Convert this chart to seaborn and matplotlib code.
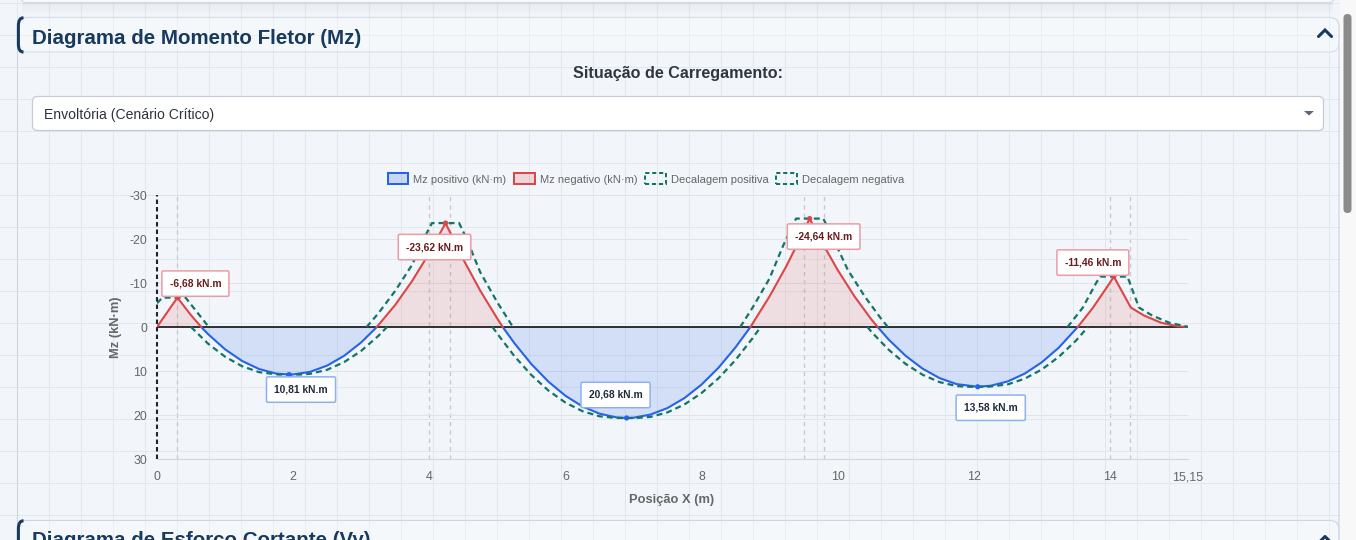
import numpy as np
import pandas as pd
import matplotlib
matplotlib.use('Agg')
import matplotlib.pyplot as plt
import seaborn as sns
from matplotlib.patches import FancyBboxPatch, Rectangle, Patch, PathPatch, Polygon
from matplotlib.path import Path

# ---- values (x in m, Mz in kN.m) ----
mz_x = [0.0, 0.15, 0.3, 0.5, 0.65, 0.75, 1.0, 1.25, 1.5, 1.75,
        1.94, 2.0, 2.25, 2.5, 2.75, 3.0, 3.23, 3.5, 3.75, 4.0,
        4.24, 4.5, 4.75, 5.0, 5.08, 5.25, 5.5, 5.75, 6.0, 6.25,
        6.5, 6.75, 6.9, 7.0, 7.25, 7.5, 7.75, 8.0, 8.25, 8.5,
        8.72, 8.75, 9.0, 9.25, 9.5, 9.59, 9.75, 10.0, 10.25, 10.5,
        10.59, 10.75, 11.0, 11.25, 11.5, 11.75, 12.06, 12.25, 12.5, 12.75,
        13.0, 13.25, 13.53, 13.75, 14.0, 14.06, 14.31, 14.5, 14.75, 15.0,
        15.15]
mz_val = [0.0, -3.34, -6.68, -2.67, 0.0, 1.61, 5.07, 7.72, 9.55, 10.58,
          10.81, 10.79, 10.19, 8.77, 6.55, 3.51, 0.0, -5.01, -10.48, -16.77,
          -23.62, -15.38, -8.26, -1.92, 0.0, 3.64, 8.41, 12.40, 15.61, 18.04,
          19.68, 20.54, 20.68, 20.62, 19.91, 18.43, 16.16, 13.11, 9.27, 4.65,
          0.0, -0.74, -6.93, -13.89, -21.64, -24.64, -19.85, -13.01, -6.94, -1.67,
          0.0, 2.83, 6.54, 9.47, 11.62, 12.98, 13.58, 13.35, 12.37, 10.60,
          8.04, 4.71, 0.0, -4.31, -10.00, -11.46, -4.42, -2.64, -1.00, -0.14,
          0.0]

nan = np.nan
dec_pos_x = [0.5, 0.75, 1.0, 1.25, 1.5, 1.79, 2.09, 2.25, 2.5, 2.75, 3.0, 3.25, 3.38, nan,
             4.93, 5.0, 5.25, 5.5, 5.75, 6.0, 6.25, 6.5, 6.75, 7.05, 7.25, 7.5, 7.75, 8.0,
             8.25, 8.5, 8.75, 8.87, nan,
             10.44, 10.5, 10.75, 11.0, 11.25, 11.5, 11.75, 11.91, 12.21, 12.5, 12.75, 13.0,
             13.25, 13.5, 13.68]
dec_pos_val = [0.0, 3.78, 6.75, 8.91, 10.26, 10.81, 10.81, 10.64, 9.72, 7.98, 5.43, 2.06, 0.0, nan,
               0.0, 1.51, 6.59, 10.90, 14.42, 17.16, 19.12, 20.29, 20.68, 20.68, 20.43, 19.41, 17.61, 15.03,
               11.67, 7.52, 2.59, 0.0, nan,
               0.0, 1.13, 5.15, 8.39, 10.85, 12.53, 13.42, 13.58, 13.58, 13.05, 11.75, 9.67,
               6.80, 3.15, 0.0]

dec_neg_x = [0.0, 0.08, 0.42, 0.76, nan,
             3.08, 3.25, 3.5, 3.75, 3.95, 4.04, 4.44, 4.55, 4.75, 5.0, 5.23, nan,
             8.57, 8.75, 9.0, 9.2, 9.39, 9.79, 9.9, 10.15, 10.4, 10.65, 10.74, nan,
             13.38, 13.6, 13.8, 13.86, 14.26, 14.43, 14.62, 14.87, 15.12, 15.15]
dec_neg_val = [-5.4, -6.68, -6.68, 0.0, nan,
               0.0, -3.05, -8.20, -14.16, -20.94, -23.62, -23.62, -20.03, -12.44, -5.63, 0.0, nan,
               0.0, -4.36, -11.01, -18.45, -24.64, -24.64, -21.31, -13.01, -6.94, -1.67, 0.0, nan,
               0.0, -4.31, -10.00, -11.46, -11.46, -4.42, -2.64, -1.00, -0.14, 0.0]

ext_x = [0.3, 1.94, 4.24, 6.9, 9.59, 12.06, 14.06]
ext_val = [-6.68, 10.81, -23.62, 20.68, -24.64, 13.58, -11.46]
support_x = [0.3, 4.0, 4.3, 9.5, 9.8, 14.0, 14.3]

x_ticks = [0, 2, 4, 6, 8, 10, 12, 14, 15.15]
y_ticks = [-30, -20, -10, 0, 10, 20, 30]
legend_labels = ['Mz positivo (kN·m)', 'Mz negativo (kN·m)', 'Decalagem positiva', 'Decalagem negativa']

# where each value box sits, in pixels from its point
label_offsets = [(18, 14), (12, -15), (-11, -24), (-11, 23), (14, -18), (13, -21), (-21, 14)]

# ---- style ----
sns.set_theme(style='white')
plt.rcParams['font.family'] = ['Liberation Sans', 'DejaVu Sans']
plt.rcParams['lines.scale_dashes'] = False
chart_font = ['Liberation Sans', 'DejaVu Sans']

blue = '#2563eb'
red = '#dc4646'
teal = '#137567'
navy = '#183a5e'
W, H = 1356, 540

fig = plt.figure(figsize=(W / 100, H / 100), dpi=100)
fig.patch.set_facecolor('#f2f5f9')

# page behind the chart, drawn in pixel units
bg = fig.add_axes([0, 0, 1, 1])
bg.set_xlim(0, W)
bg.set_ylim(H, 0)
bg.axis('off')

for gx in np.arange(17.3, 1340, 32):
    bg.plot([gx, gx], [0, H], color='#e2e7ee', lw=0.72, zorder=0)
for gy in np.arange(2.5, H, 32):
    bg.plot([0, 1340], [gy, gy], color='#e2e7ee', lw=0.72, zorder=0)

# previous card and its shadow
bg.add_patch(FancyBboxPatch((20.5, -20), 1314, 22.5, boxstyle='round,pad=0,rounding_size=6',
                            fc='#f7f9fc', ec='#d3dae4', lw=0.8, zorder=2))
for i in range(12):
    bg.add_patch(Rectangle((22, 2.5 + i), 1311, 1, fc='#7d8ba0', lw=0,
                           alpha=0.10 * (1 - i / 12) ** 1.5, zorder=1))

# panel + header
bg.add_patch(FancyBboxPatch((17.5, 17.5), 1321.5, 620, boxstyle='round,pad=0,rounding_size=10',
                            fc='none', ec='#cdd6e1', lw=0.8, zorder=2))
bg.add_patch(FancyBboxPatch((17.5, 17.5), 1321.5, 34.5, boxstyle='round,pad=0,rounding_size=9',
                            fc=(1, 1, 1, 0.3), ec='#d7dee8', lw=0.8, zorder=2))
arc_codes = [Path.MOVETO, Path.CURVE4, Path.CURVE4, Path.CURVE4,
             Path.LINETO, Path.CURVE4, Path.CURVE4, Path.CURVE4]
bg.add_patch(PathPatch(Path([(23.5, 17.8), (20, 17.8), (18.4, 20.5), (18.4, 26),
                             (18.4, 44), (18.4, 49.5), (20, 52), (23.5, 52)], arc_codes),
                       fc='none', ec=navy, lw=2.2, zorder=3))
bg.text(32, 44.5, 'Diagrama de Momento Fletor (Mz)', fontsize=14.8, fontweight='bold',
        color=navy, va='baseline', zorder=3)
bg.plot([1318.5, 1325, 1331.5], [36.5, 30, 36.5], color=navy, lw=2.2,
        solid_capstyle='round', solid_joinstyle='miter', zorder=3)

bg.text(678, 78, 'Situação de Carregamento:', fontsize=11.6, fontweight='bold',
        color='#30363f', ha='center', va='baseline', zorder=3)
bg.add_patch(FancyBboxPatch((32.5, 96.5), 1291, 34, boxstyle='round,pad=0,rounding_size=5',
                            fc='white', ec='#c3ccd8', lw=0.9, zorder=3))
bg.text(44, 119.5, 'Envoltória (Cenário Crítico)', fontsize=10.1, color='#2d333a',
        va='baseline', zorder=4)
bg.add_patch(Polygon([(1304, 111), (1314, 111), (1309, 115.5)], closed=True,
                     fc='#5d6876', lw=0, zorder=4))

# next section header, cut by the bottom edge as in the page
bg.add_patch(FancyBboxPatch((17.5, 520.5), 1321.5, 40, boxstyle='round,pad=0,rounding_size=9',
                            fc=(1, 1, 1, 0.3), ec='#cdd6e1', lw=0.8, zorder=2))
bg.add_patch(PathPatch(Path([(23.5, 520.8), (20, 520.8), (18.4, 523.5), (18.4, 529),
                             (18.4, 547), (18.4, 552.5), (20, 555), (23.5, 555)], arc_codes),
                       fc='none', ec=navy, lw=2.2, zorder=3))
bg.text(32, 546, 'Diagrama de Esforço Cortante (Vy)', fontsize=14.8, fontweight='bold',
        color=navy, va='baseline', zorder=3)
bg.plot([1318.5, 1325, 1331.5], [543, 536.5, 543], color=navy, lw=2.2,
        solid_capstyle='round', zorder=3)

# scrollbar
bg.add_patch(Rectangle((1340, 0), 16, H, fc='#f8f8f8', lw=0, zorder=5))
bg.add_patch(FancyBboxPatch((1343.5, 14), 8, 199, boxstyle='round,pad=0,rounding_size=4',
                            fc='#8b8b8b', lw=0, zorder=6))

# ---- chart ----
ax = fig.add_axes([157 / W, 1 - 459 / H, 1031 / W, 264 / H])
ax.patch.set_alpha(0)

mx = np.array(mz_x)
mz = np.array(mz_val)
ax.fill_between(mx, mz, 0, where=mz >= 0, interpolate=True, color=blue, alpha=0.15, lw=0, zorder=1)
ax.fill_between(mx, mz, 0, where=mz <= 0, interpolate=True, color=red, alpha=0.13, lw=0, zorder=1)


def segments(xs, vs):
    df = pd.DataFrame({'x': xs, 'v': vs})
    df['seg'] = df['v'].isna().cumsum()
    return df.dropna()


for sx in support_x:
    ax.axvline(sx, color='#c6cbd3', lw=1.0, ls=(0, (3, 3)), zorder=0.5)
ax.axhline(0, color='#111111', lw=1.2, zorder=3)

line_kw = dict(x='x', y='v', units='seg', estimator=None, sort=False, ax=ax, legend=False)
sns.lineplot(data=segments(mz_x, np.where(mz >= 0, mz, np.nan)), color=blue, lw=1.5, zorder=4, **line_kw)
sns.lineplot(data=segments(mz_x, np.where(mz <= 0, mz, np.nan)), color=red, lw=1.5, zorder=4, **line_kw)
sns.lineplot(data=segments(dec_pos_x, dec_pos_val), color=teal, lw=1.6,
             linestyle=(0, (4.3, 2.9)), zorder=5, **line_kw)
sns.lineplot(data=segments(dec_neg_x, dec_neg_val), color=teal, lw=1.6,
             linestyle=(0, (4.3, 2.9)), zorder=5, **line_kw)

ax.scatter(ext_x, ext_val, s=14, lw=0, zorder=6,
           c=[red if v < 0 else blue for v in ext_val])

for xv, v, (dx, dy) in zip(ext_x, ext_val, label_offsets):
    neg = v < 0
    ax.annotate(f'{v:.2f}'.replace('.', ',') + ' kN.m', xy=(xv, v), xytext=(dx, dy),
                textcoords='offset pixels', ha='center', va='center',
                fontsize=7.4, fontweight='bold', family=chart_font,
                color='#6b1c1c' if neg else '#1f2b3d', zorder=8,
                bbox=dict(boxstyle='round,pad=0.75,rounding_size=0.15', fc='white',
                          ec='#eb9ca3' if neg else '#8eb0f2', lw=1.1))

ax.axvline(0, color='#1f2430', lw=1.5, ls=(0, (3.2, 2.2)), zorder=7, clip_on=False)

ax.set_xlim(0, 15.15)
ax.set_ylim(30, -30)
ax.set_xticks(x_ticks, labels=[f'{t:g}'.replace('.', ',') for t in x_ticks])
ax.set_yticks(y_ticks, labels=[str(t) for t in y_ticks])
ax.tick_params(axis='both', length=0, labelsize=8.9, labelcolor='#666666')
ax.tick_params(axis='x', pad=9)
ax.tick_params(axis='y', pad=7)
for lab in ax.get_xticklabels() + ax.get_yticklabels():
    lab.set_family(chart_font)

ax.grid(axis='y', color='#dfe3e9', lw=0.72)
ax.grid(axis='x', visible=False)
ax.set_axisbelow(True)
for s in ['top', 'right', 'left']:
    ax.spines[s].set_visible(False)
ax.spines['bottom'].set_color('#d3d8de')
ax.spines['bottom'].set_linewidth(0.9)

ax.set_xlabel('Posição X (m)', fontsize=9.3, fontweight='bold', color='#666666', family=chart_font)
ax.set_ylabel('Mz (kN·m)', fontsize=9.3, fontweight='bold', color='#666666', family=chart_font)
ax.xaxis.set_label_coords(0.4995, (459 - 500) / 264)
ax.xaxis.label.set_verticalalignment('center')
ax.yaxis.set_label_coords((116 - 157) / 1031, 0.5)
ax.yaxis.label.set_verticalalignment('center')

handles = [Patch(fc=(0.145, 0.388, 0.922, 0.2), ec=blue, lw=1.44),
           Patch(fc=(0.863, 0.275, 0.275, 0.18), ec=red, lw=1.44),
           Patch(fc='none', ec=teal, lw=1.44, ls=(0, (3, 2))),
           Patch(fc='none', ec=teal, lw=1.44, ls=(0, (3, 2)))]
ax.legend(handles, legend_labels, loc='center', bbox_to_anchor=(646 / W, 1 - 179 / H),
          bbox_transform=fig.transFigure, ncol=4, frameon=False,
          prop={'family': chart_font, 'size': 8.0}, labelcolor='#666666',
          handlelength=1.85, handleheight=1.15, handletextpad=0.45,
          columnspacing=0.7, borderaxespad=0, borderpad=0)

fig.savefig('out.png', dpi=100, facecolor=fig.get_facecolor())
